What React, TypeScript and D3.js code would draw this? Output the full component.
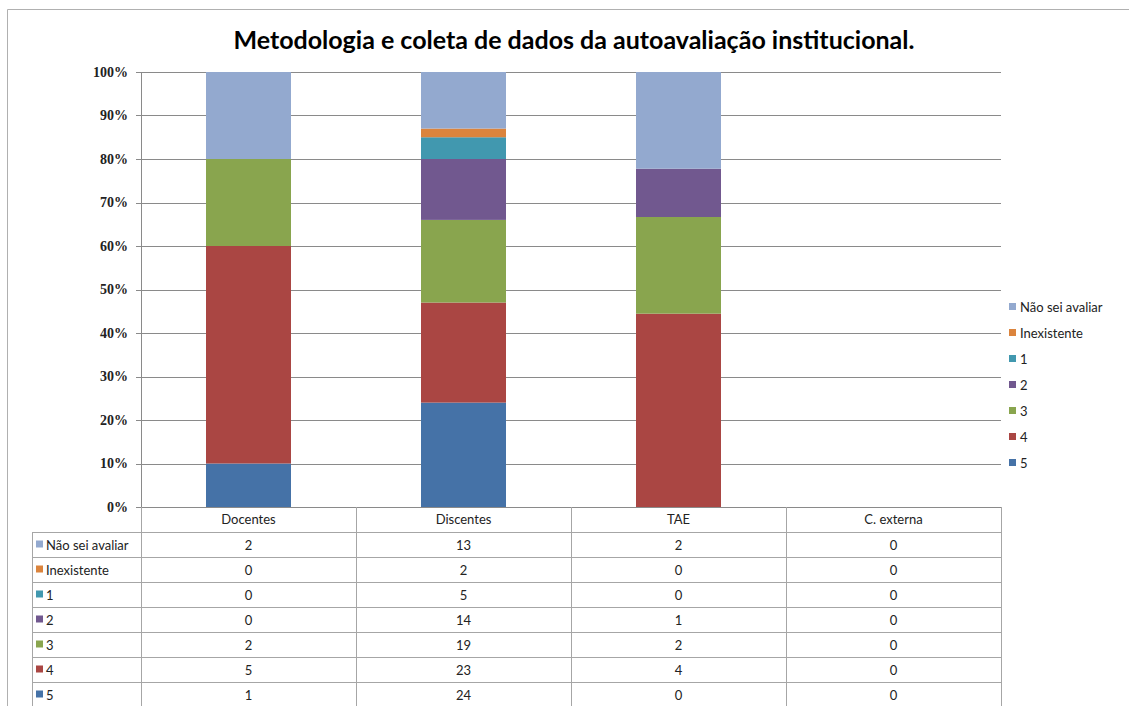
import * as d3 from "d3";

const title = "Metodologia e coleta de dados da autoavaliação institucional.";
const categories = ["Docentes", "Discentes", "TAE", "C. externa"];
// series listed from bottom of stack to top
const seriesNames = ["5", "4", "3", "2", "1", "Inexistente", "Não sei avaliar"];
const v5 = [1, 24, 0, 0];
const v4 = [5, 23, 4, 0];
const v3 = [2, 19, 2, 0];
const v2 = [0, 14, 1, 0];
const v1 = [0, 5, 0, 0];
const vInex = [0, 2, 0, 0];
const vNao = [2, 13, 2, 0];
const colors = ["#4572A7", "#AA4643", "#89A54E", "#71588F", "#4198AF", "#DB843D", "#93A9CF"];
const yTicks = [0, 0.1, 0.2, 0.3, 0.4, 0.5, 0.6, 0.7, 0.8, 0.9, 1];

const W = 1129;
const H = 706;
const plot = { left: 141, right: 1001, top: 72, bottom: 507 };
const ROW_H = 25;
const TABLE_LEFT = 32;
const FONT = "Lato, 'Open Sans', sans-serif";
const SERIF = "'Liberation Serif', 'DejaVu Serif', serif";

export default function App() {
  const valueLists = [v5, v4, v3, v2, v1, vInex, vNao];
  const rows = categories.map((c, i) => {
    const r: Record<string, any> = { cat: c };
    seriesNames.forEach((s, k) => (r[s] = valueLists[k][i]));
    return r;
  });
  const stacked = d3.stack<any>().keys(seriesNames).offset(d3.stackOffsetExpand)(rows);

  const x = d3.scaleBand().domain(categories).range([plot.left, plot.right]);
  const y = d3.scaleLinear().domain([0, 1]).range([plot.bottom, plot.top]);
  const barW = 85;
  const color = d3.scaleOrdinal<string>().domain(seriesNames).range(colors);
  const pct = d3.format(".0%");

  // table rows, top to bottom: Não sei avaliar ... 5
  const tableSeries = seriesNames.map((s, k) => ({ name: s, vals: valueLists[k] })).reverse();
  const tableTop = plot.bottom + ROW_H;
  const tableBottom = tableTop + ROW_H * tableSeries.length;
  const gridStroke = "#8a8a8a";
  const tableStroke = "#a6a6a6";

  return (
    <svg width={W} height={H} style={{ position: "absolute", left: 0, top: 0, background: "#fff" }}>
      <rect x={0} y={0} width={W} height={H} fill="#fff" />
      {/* outer chart border */}
      <path d={`M7.5,${H} V9.5 H${W}`} fill="none" stroke="#b0b0b0" />
      <text x={574} y={49} textAnchor="middle" fontFamily={FONT} fontWeight="bold" fontSize={25} fill="#000">
        {title}
      </text>

      {/* gridlines and y axis */}
      {yTicks.map((t) => (
        <g key={t}>
          {t > 0 && (
            <line x1={plot.left} x2={plot.right} y1={Math.round(y(t)) + 0.5} y2={Math.round(y(t)) + 0.5} stroke={gridStroke} />
          )}
          <line x1={plot.left - 5} x2={plot.left} y1={Math.round(y(t)) + 0.5} y2={Math.round(y(t)) + 0.5} stroke={gridStroke} />
          <text x={128} y={y(t) + 4.5} textAnchor="end" fontFamily={SERIF} fontWeight="bold" fontSize={14} fill="#222">
            {pct(t)}
          </text>
        </g>
      ))}
      <line x1={plot.left + 0.5} x2={plot.left + 0.5} y1={plot.top} y2={plot.bottom} stroke={gridStroke} />

      {/* bars */}
      {stacked.map((layer) => (
        <g key={layer.key} fill={color(layer.key)}>
          {layer.map((d, i) => {
            const h = y(d[0]) - y(d[1]);
            if (!(h > 0)) return null;
            return (
              <rect
                key={i}
                x={x(categories[i])! + (x.bandwidth() - barW) / 2}
                y={y(d[1])}
                width={barW}
                height={h}
              />
            );
          })}
        </g>
      ))}

      {/* data table */}
      <g fontFamily={FONT} fontSize={13} fill="#222">
        <line x1={plot.left} x2={plot.right} y1={plot.bottom + 0.5} y2={plot.bottom + 0.5} stroke={gridStroke} />
        {d3.range(tableSeries.length + 1).map((k) => (
          <line
            key={k}
            x1={TABLE_LEFT}
            x2={plot.right}
            y1={tableTop + k * ROW_H + 0.5}
            y2={tableTop + k * ROW_H + 0.5}
            stroke={tableStroke}
          />
        ))}
        <line x1={TABLE_LEFT + 0.5} x2={TABLE_LEFT + 0.5} y1={tableTop} y2={tableBottom} stroke={tableStroke} />
        {[...categories.map((c) => x(c)!), plot.right].map((xx, k) => (
          <line key={k} x1={xx + 0.5} x2={xx + 0.5} y1={plot.bottom} y2={tableBottom} stroke={tableStroke} />
        ))}
        {categories.map((c) => (
          <text key={c} x={x(c)! + x.bandwidth() / 2} y={plot.bottom + 17} textAnchor="middle">
            {c}
          </text>
        ))}
        {tableSeries.map((s, r) => {
          const cy = tableTop + r * ROW_H + ROW_H / 2;
          return (
            <g key={s.name}>
              <rect x={TABLE_LEFT + 4} y={cy - 4} width={7} height={7} fill={color(s.name)} />
              <text x={TABLE_LEFT + 14} y={cy + 5}>{s.name}</text>
              {s.vals.map((v, i) => (
                <text key={i} x={x(categories[i])! + x.bandwidth() / 2} y={cy + 5} textAnchor="middle">
                  {v}
                </text>
              ))}
            </g>
          );
        })}
      </g>

      {/* legend */}
      <g fontFamily={FONT} fontSize={13} fill="#222">
        {tableSeries.map((s, r) => {
          const cy = 307 + r * 26;
          return (
            <g key={s.name}>
              <rect x={1009} y={cy - 4} width={7} height={7} fill={color(s.name)} />
              <text x={1020} y={cy + 5}>{s.name}</text>
            </g>
          );
        })}
      </g>
    </svg>
  );
}
